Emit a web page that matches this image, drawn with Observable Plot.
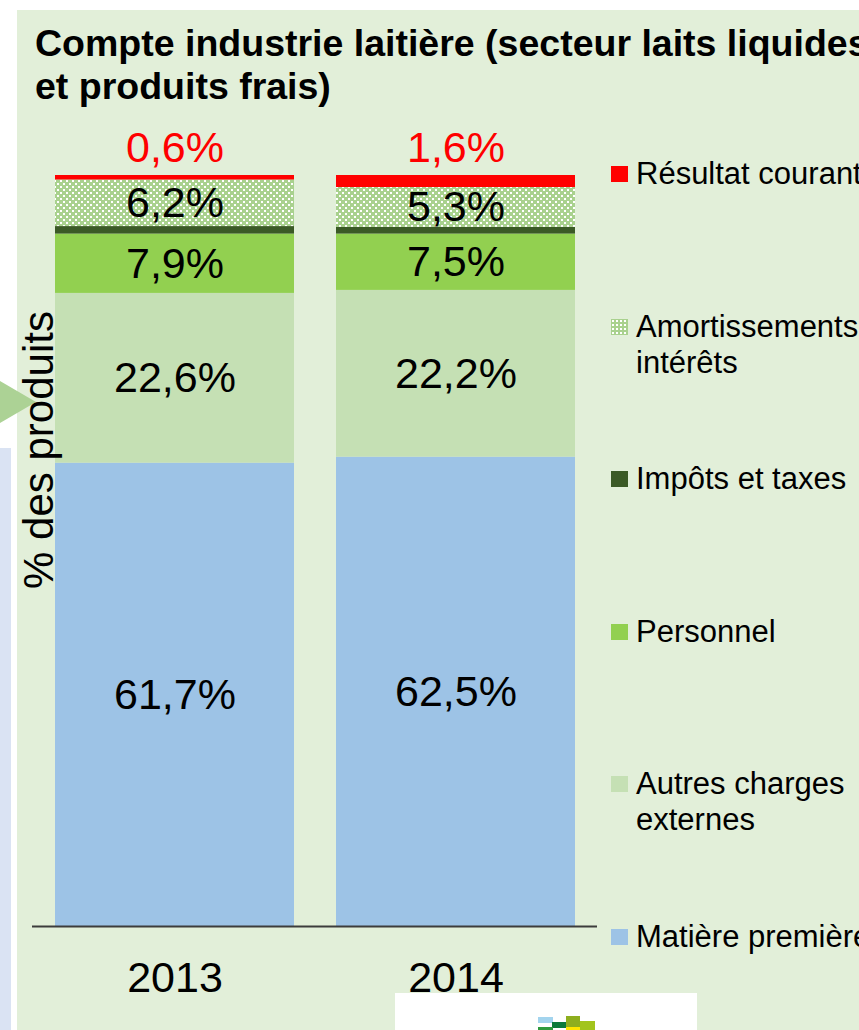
<!DOCTYPE html>
<html>
<head>
<meta charset="utf-8">
<script src="https://cdn.jsdelivr.net/npm/d3@7"></script>
<script src="https://cdn.jsdelivr.net/npm/@observablehq/plot@0.6"></script>
<style>
  html, body { margin: 0; padding: 0; }
  body { width: 859px; height: 1030px; overflow: hidden; position: relative; background: #ffffff; font-family: "Liberation Sans", Arial, sans-serif; }
  .abs { position: absolute; }
  #panel { left: 17px; top: 10px; width: 842px; height: 1020px; background: #e2efd9; }
  #strip { left: 0; top: 448px; width: 11px; height: 582px; background: #dae3f3; }
  #arrow { left: 0; top: 381px; width: 36px; height: 42px; background: #acd295; clip-path: polygon(0 0, 100% 50%, 0 100%); }
  #title { left: 35px; top: 22px; width: 900px; font-weight: bold; font-size: 37.5px; line-height: 43px; color: #000; white-space: nowrap; }
  #ylabel { left: -161px; top: 427px; width: 400px; height: 46px; line-height: 46px; font-size: 42px; text-align: center; transform: rotate(-90deg); color: #000; white-space: nowrap; }
  #chart { left: 0; top: 0; }
  .leg { position: absolute; left: 611px; width: 320px; font-size: 31px; line-height: 36px; color: #000; }
  .leg .sw { position: absolute; left: 0; top: 10px; width: 17px; height: 16px; }
  .leg .tx { position: absolute; left: 25px; top: 0; width: 290px; }
  #logobox { left: 395px; top: 993px; width: 302px; height: 37px; background: #ffffff; }
  .blk { position: absolute; }
</style>
</head>
<body>
<div id="panel" class="abs"></div>
<div id="strip" class="abs"></div>
<div id="arrow" class="abs"></div>
<div id="title" class="abs"></div>
<div id="chart" class="abs"></div>
<div id="ylabel" class="abs"></div>
<div id="legend"></div>
<div id="logobox" class="abs">
  <div class="blk" style="left:143px;top:24px;width:15px;height:6px;background:#a3d4ee"></div>
  <div class="blk" style="left:157px;top:29px;width:15px;height:6px;background:#0a7a3a"></div>
  <div class="blk" style="left:143px;top:34px;width:15px;height:3px;background:#2e9a3e"></div>
  <div class="blk" style="left:171px;top:23px;width:14px;height:11px;background:#8eae1e"></div>
  <div class="blk" style="left:171px;top:34px;width:14px;height:3px;background:#ffe600"></div>
  <div class="blk" style="left:185px;top:28px;width:15px;height:9px;background:#a2c41c"></div>
</div>
<script>
// ---- data ----
const title = ["Compte industrie laitière (secteur laits liquides", "et produits frais)"];
const yLabel = "% des produits";
const years = ["2013", "2014"];
const series = ["Matière première", "Autres charges externes", "Personnel", "Impôts et taxes", "Amortissements et intérêts", "Résultat courant"];
const values2013 = [61.7, 22.6, 7.9, 1.0, 6.2, 0.6];
const values2014 = [62.5, 22.2, 7.5, 0.9, 5.3, 1.6];
const colors = ["#9dc3e6", "#c5e0b4", "#92d050", "#3b5a26", "url(#dots)", "#ff0000"];
const showLabel = [true, true, true, false, true, true];
const legendOrder = ["Résultat courant", "Amortissements et intérêts", "Impôts et taxes", "Personnel", "Autres charges externes", "Matière première"];

const fmt = v => v.toFixed(1).replace(".", ",") + "%";

// ---- build table ----
const byYear = [values2013, values2014];
const rows = [];
years.forEach((yr, yi) => {
  let acc = 0;
  series.forEach((s, si) => {
    const v = byYear[yi][si];
    rows.push({year: yr, serie: s, value: v, y1: acc, y2: acc + v, mid: acc + v / 2,
               color: colors[si], label: fmt(v), show: showLabel[si], top: si === series.length - 1});
    acc += v;
  });
});

// ---- title & labels ----
document.getElementById("title").innerHTML = title.join("<br>");
document.getElementById("ylabel").textContent = yLabel;

// ---- chart ----
const chart = Plot.plot({
  width: 859,
  height: 1030,
  marginTop: 175,
  marginBottom: 104,
  marginLeft: 32,
  marginRight: 262,
  style: {background: "transparent", fontFamily: "'Liberation Sans', Arial, sans-serif", color: "#000", overflow: "visible"},
  x: {domain: years, paddingInner: 0.15, paddingOuter: 0.08, label: null},
  y: {domain: [0, 100], axis: null},
  color: {type: "identity"},
  marks: [
    Plot.barY(rows, {x: "year", y1: "y1", y2: "y2", fill: "color"}),
    Plot.text(rows.filter(d => d.show && !d.top), {x: "year", y: "mid", text: "label", fontSize: 43, fill: "#000"}),
    Plot.text(rows.filter(d => d.show && d.top), {x: "year", y: "y2", text: "label", fontSize: 43, fill: "#ff0000", dy: -27}),
    Plot.ruleY([0], {stroke: "#3c3c3c", strokeWidth: 2}),
    Plot.axisX({tickSize: 0, tickPadding: 35, fontSize: 43, label: null, fill: "#000"})
  ]
});

// dotted pattern for "Amortissements et intérêts"
const defs = d3.select(chart).insert("defs", ":first-child");
const pat = defs.append("pattern").attr("id", "dots").attr("patternUnits", "userSpaceOnUse")
  .attr("width", 6).attr("height", 6);
pat.append("rect").attr("width", 6).attr("height", 6).attr("fill", "#a9d18e");
pat.append("rect").attr("x", 0).attr("y", 0).attr("width", 2).attr("height", 2).attr("fill", "#ffffff");
pat.append("rect").attr("x", 3).attr("y", 3).attr("width", 2).attr("height", 2).attr("fill", "#ffffff");

document.getElementById("chart").appendChild(chart);

// ---- legend ----
const legend = document.getElementById("legend");
legendOrder.forEach((s, i) => {
  const si = series.indexOf(s);
  const item = document.createElement("div");
  item.className = "leg";
  item.style.top = (174 - 18 + i * 152.6) + "px";
  const sw = document.createElement("div");
  sw.className = "sw";
  if (colors[si].startsWith("url")) {
    sw.style.background = "#a9d18e";
    sw.style.backgroundImage = "radial-gradient(#ffffff 1px, transparent 1.3px)";
    sw.style.backgroundSize = "4px 4px";
  } else {
    sw.style.background = colors[si];
  }
  const tx = document.createElement("div");
  tx.className = "tx";
  tx.textContent = s;
  item.appendChild(sw);
  item.appendChild(tx);
  legend.appendChild(item);
});
</script>
</body>
</html>
